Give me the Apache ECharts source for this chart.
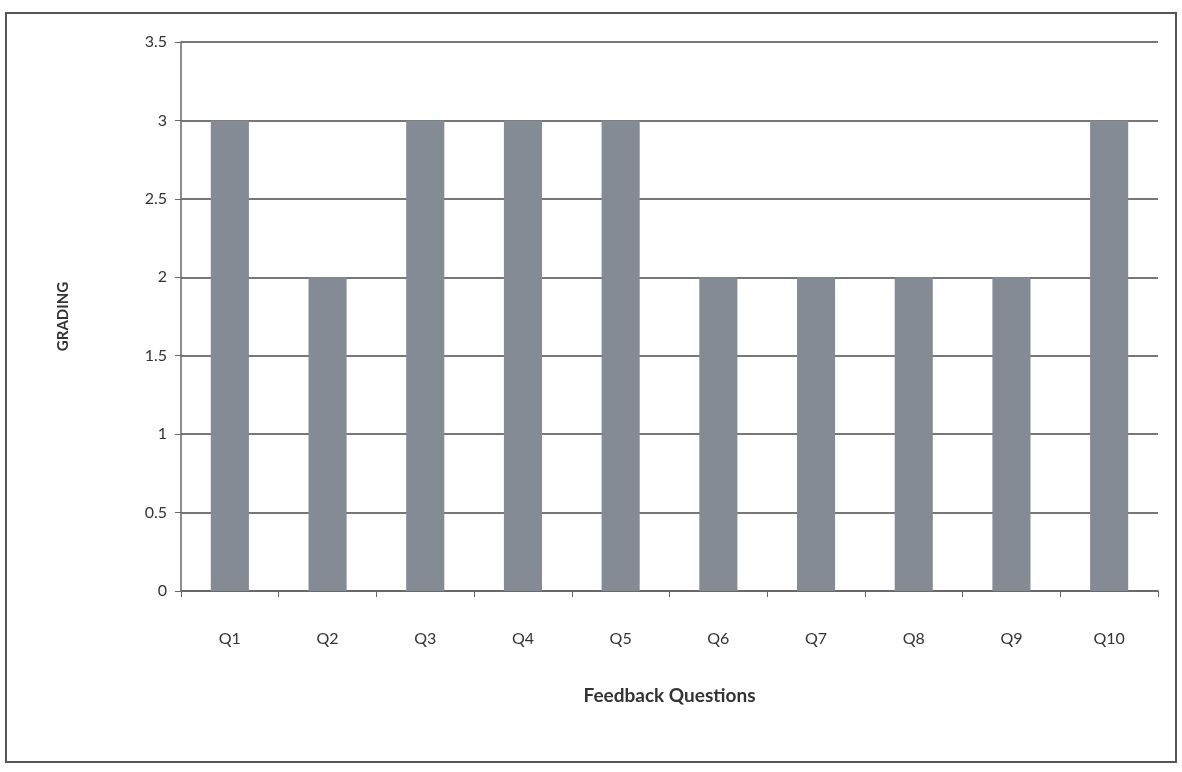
<!DOCTYPE html>
<html>
<head>
<meta charset="utf-8">
<script src="https://cdn.jsdelivr.net/npm/echarts@6/dist/echarts.min.js"></script>
<style>
html,body{margin:0;padding:0;background:#fff;}
#frame{position:absolute;left:5px;top:12px;width:1172px;height:751px;border:2px solid #555;box-sizing:border-box;}
#chart{position:absolute;left:0;top:0;width:1182px;height:772px;}
</style>
</head>
<body>
<div id="frame"></div>
<div id="chart"></div>
<script>
const categories = ['Q1','Q2','Q3','Q4','Q5','Q6','Q7','Q8','Q9','Q10'];
const grading = [3, 2, 3, 3, 3, 2, 2, 2, 2, 3];
const yTicks = [0, 0.5, 1, 1.5, 2, 2.5, 3, 3.5];

const chart = echarts.init(document.getElementById('chart'));
chart.setOption({
  backgroundColor: 'transparent',
  animation: false,
  grid: { left: 181, right: 24, top: 42, bottom: 181 },
  xAxis: {
    type: 'category',
    data: categories,
    name: 'Feedback Questions',
    nameLocation: 'middle',
    nameGap: 95,
    nameTextStyle: { fontFamily: 'Lato', fontSize: 19, fontWeight: 'bold', color: '#333' },
    axisLine: { lineStyle: { color: '#666', width: 1.5 } },
    axisTick: { show: true, alignWithLabel: false, length: 6, lineStyle: { color: '#666' } },
    axisLabel: { fontFamily: 'Lato', fontSize: 16, color: '#333', margin: 40 }
  },
  yAxis: {
    type: 'value',
    min: 0, max: 3.5, interval: 0.5,
    name: 'GRADING',
    nameLocation: 'middle',
    nameGap: 110,
    nameRotate: 90,
    nameTextStyle: { fontFamily: 'Lato', fontSize: 15, fontWeight: 'bold', color: '#333' },
    axisLine: { show: true, lineStyle: { color: '#666', width: 1.5 } },
    axisTick: { show: true, length: 6, inside: false, lineStyle: { color: '#666' } },
    axisLabel: {
      fontFamily: 'Lato', fontSize: 16, color: '#333', margin: 14,
      formatter: v => (yTicks.indexOf(v) >= 0 ? String(v) : '')
    },
    splitLine: { show: true, lineStyle: { color: '#4a4a4a', width: 1.6 } }
  },
  series: [{
    type: 'bar',
    data: grading,
    barWidth: '39%',
    itemStyle: { color: '#848b94' }
  }]
});
</script>
</body>
</html>
